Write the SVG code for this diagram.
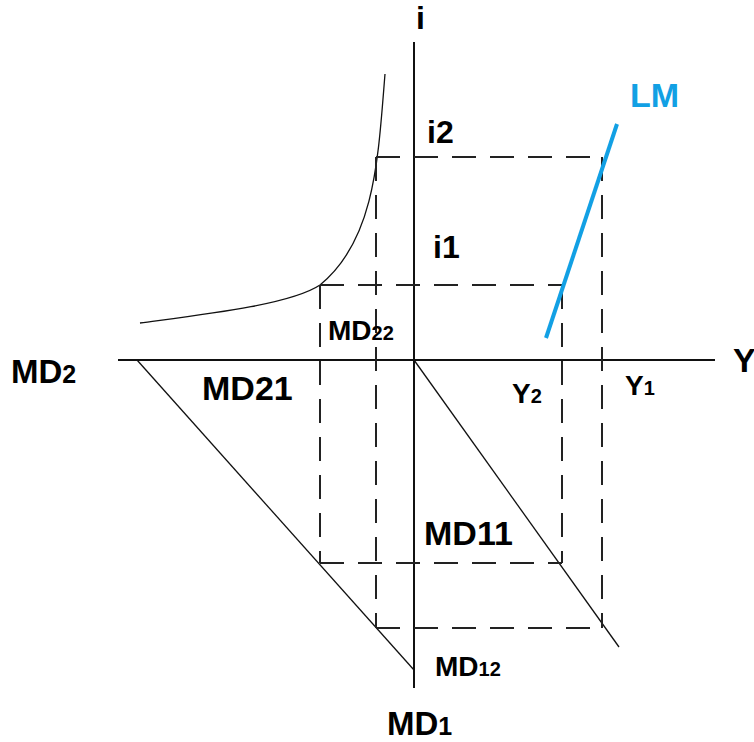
<svg xmlns="http://www.w3.org/2000/svg" width="754" height="742" viewBox="0 0 754 742">
<style>
.ax{stroke:#111;stroke-width:2;fill:none}
.ds{stroke:#222;stroke-width:2;fill:none;stroke-dasharray:24 14}
.th{stroke:#111;stroke-width:1.3;fill:none}
.t{font-family:"Liberation Sans",Arial,sans-serif;font-weight:bold;fill:#000}
.lm{stroke:#12a0e4;stroke-width:4;fill:none}
</style>
<rect width="754" height="742" fill="#fff"/>
<g id="connectors">
<line class="ax" x1="414" y1="42" x2="414" y2="688"/>
<line class="ax" x1="118" y1="360" x2="715" y2="360"/>
<path class="th" d="M385,74 C378,160 375,240 320,285 C290,305 200,315 140,323"/>
<line class="th" x1="137" y1="360" x2="414" y2="670"/>
<line class="th" x1="414" y1="360" x2="619" y2="647"/>
<line class="ds" x1="376" y1="157" x2="604" y2="157"/>
<line class="ds" x1="376" y1="157" x2="376" y2="628"/>
<line class="ds" x1="602" y1="157" x2="602" y2="628"/>
<line class="ds" x1="320" y1="285" x2="562" y2="285"/>
<line class="ds" x1="320" y1="285" x2="320" y2="563"/>
<line class="ds" x1="562" y1="285" x2="562" y2="563"/>
<line class="ds" x1="320" y1="563" x2="562" y2="563"/>
<line class="ds" x1="376" y1="628" x2="604" y2="628"/>
<line class="lm" x1="617" y1="124" x2="546" y2="338"/>
</g>
<g id="labels">
<text class="t" x="416" y="29" font-size="32">i</text>
<text class="t" x="427" y="143" font-size="32">i2</text>
<text class="t" x="433" y="258" font-size="32">i1</text>
<text class="t" x="630" y="107" font-size="34" style="fill:#12a0e4">LM</text>
<text class="t" x="328" y="340" font-size="28">MD<tspan font-size="20">22</tspan></text>
<text class="t" x="11" y="383" font-size="33">MD<tspan font-size="25">2</tspan></text>
<text class="t" x="202" y="400" font-size="34">MD21</text>
<text class="t" x="512" y="403" font-size="28">Y<tspan font-size="20">2</tspan></text>
<text class="t" x="625" y="395" font-size="28">Y<tspan font-size="20">1</tspan></text>
<text class="t" x="733" y="372" font-size="34">Y</text>
<text class="t" x="424" y="545" font-size="34">MD11</text>
<text class="t" x="435" y="676" font-size="28">MD<tspan font-size="20">12</tspan></text>
<text class="t" x="387" y="735" font-size="33">MD<tspan font-size="25">1</tspan></text>
</g>
</svg>
